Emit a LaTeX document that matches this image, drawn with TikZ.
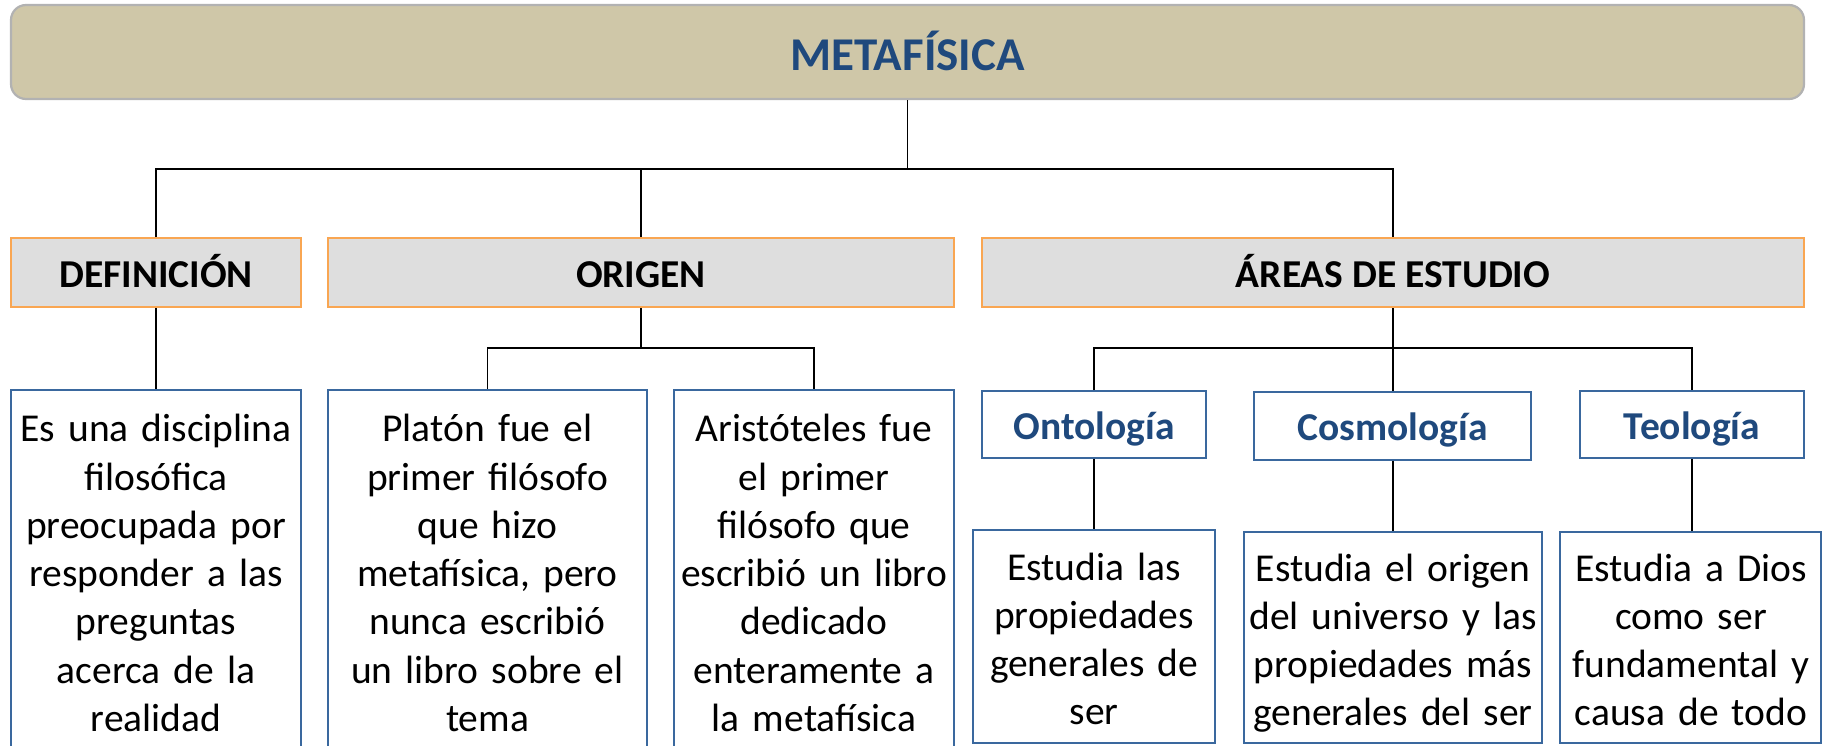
\documentclass[tikz,border=0pt]{standalone}
\usepackage{fontspec}
\setmainfont{Carlito}
\definecolor{titlefill}{RGB}{207,199,168}
\definecolor{titlegray}{RGB}{178,178,178}
\definecolor{titleblue}{RGB}{31,73,125}
\definecolor{catfill}{RGB}{222,222,222}
\definecolor{catorange}{RGB}{249,166,82}
\definecolor{boxblue}{RGB}{58,104,158}
\begin{document}
\begin{tikzpicture}[x=1pt,y=1pt,
  titlebox/.style={draw=titlegray, line width=2.2pt, fill=titlefill, rounded corners=15pt, inner sep=0pt,
    text height=37.4pt, text depth=0pt, font=\fontsize{47}{56}\selectfont\bfseries, text=titleblue},
  catbox/.style={draw=catorange, line width=2pt, fill=catfill, inner sep=0pt, minimum height=69pt,
    text height=29pt, text depth=0pt, font=\fontsize{39.5}{48}\selectfont\bfseries},
  subbox/.style={draw=boxblue, line width=1.6pt, fill=white, inner sep=0pt,
    text height=29pt, text depth=0pt, font=\fontsize{39.5}{48}\selectfont\bfseries, text=titleblue},
  descbox/.style={draw=boxblue, line width=2.6pt, fill=white, inner sep=0pt},
  desctext/.style={anchor=base, text width=330pt, align=center, inner sep=0pt,
    font=\fontsize{39.5}{48.3}\selectfont},
  conn/.style={draw=black, line width=1.8pt}
]
\useasboundingbox (0,0) rectangle (1823,-745);
\clip (0,0) rectangle (1823,-745);

% level 0
\node[titlebox, minimum width=1793pt, minimum height=94pt] (title) at (907.5,-52) {METAFÍSICA};

% level 1
\node[catbox, minimum width=290pt] (def) at (156,-272.5) {DEFINICIÓN};
\node[catbox, minimum width=626pt] (origen) at (641,-272.5) {ORIGEN};
\node[catbox, minimum width=822pt] (areas) at (1393,-272.5) {ÁREAS DE ESTUDIO};

% level 2 (left)
\node[descbox, minimum width=290pt, minimum height=380pt] (defD) at (156,-580) {};
\node[descbox, minimum width=319pt, minimum height=380pt] (platon) at (487.5,-580) {};
\node[descbox, minimum width=280pt, minimum height=380pt] (arist) at (814,-580) {};

% level 2 (right)
\node[subbox, minimum width=224pt, minimum height=67pt] (onto) at (1094,-424.5) {Ontología};
\node[subbox, minimum width=277pt, minimum height=68pt, text height=28pt] (cosmo) at (1392.5,-426) {Cosmología};
\node[subbox, minimum width=224pt, minimum height=67pt] (teo) at (1692,-424.5) {Teología};

% level 3
\node[descbox, minimum width=242pt, minimum height=213pt] (ontoD) at (1094,-636.5) {};
\node[descbox, minimum width=298pt, minimum height=211pt] (cosmoD) at (1393,-637.5) {};
\node[descbox, minimum width=261pt, minimum height=211pt] (teoD) at (1690.5,-637.5) {};

% texts
\node[desctext] (defT) at (156,-441.7) {Es una disciplina\\ filosófica\\ preocupada por\\ responder a las\\ preguntas\\ acerca de la\\ realidad};
\node[desctext] (platT) at (487.5,-441.7) {Platón fue el\\ primer filósofo\\ que hizo\\ metafísica, pero\\ nunca escribió\\ un libro sobre el\\ tema};
\node[desctext] (aristT) at (814,-441.7) {Aristóteles fue\\ el primer\\ filósofo que\\ escribió un libro\\ dedicado\\ enteramente a\\ la metafísica};
\node[desctext] (ontoT) at (1094,-580) {Estudia las\\ propiedades\\ generales de\\ ser};
\node[desctext] (cosmoT) at (1393,-581) {Estudia el origen\\ del universo y las\\ propiedades más\\ generales del ser};
\node[desctext] (teoT) at (1691,-581) {Estudia a Dios\\ como ser\\ fundamental y\\ causa de todo};

% connectors
\coordinate (j1) at (907.5,-169);
\coordinate (j2) at (641,-348);
\coordinate (j3) at (1393,-348);
\draw[conn] (title.south) -- (j1);
\draw[conn] (def.north) |- (j1) -| (areas.north);
\draw[conn] (origen.north) -- (origen.north |- j1);
\draw[conn] (def.south) -- (defD.north);
\draw[conn] (origen.south) -- (j2);
\draw[conn] (platon.north) |- (j2) -| (arist.north);
\draw[conn] (areas.south) -- (j3);
\draw[conn] (onto.north) |- (j3) -| (teo.north);
\draw[conn] (j3) -- (cosmo.north -| j3);
\draw[conn] (onto.south) -- (ontoD.north);
\draw[conn] (cosmo.south -| j3) -- (cosmoD.north);
\draw[conn] (teo.south) -- (teo.south |- teoD.north);
\end{tikzpicture}
\end{document}
